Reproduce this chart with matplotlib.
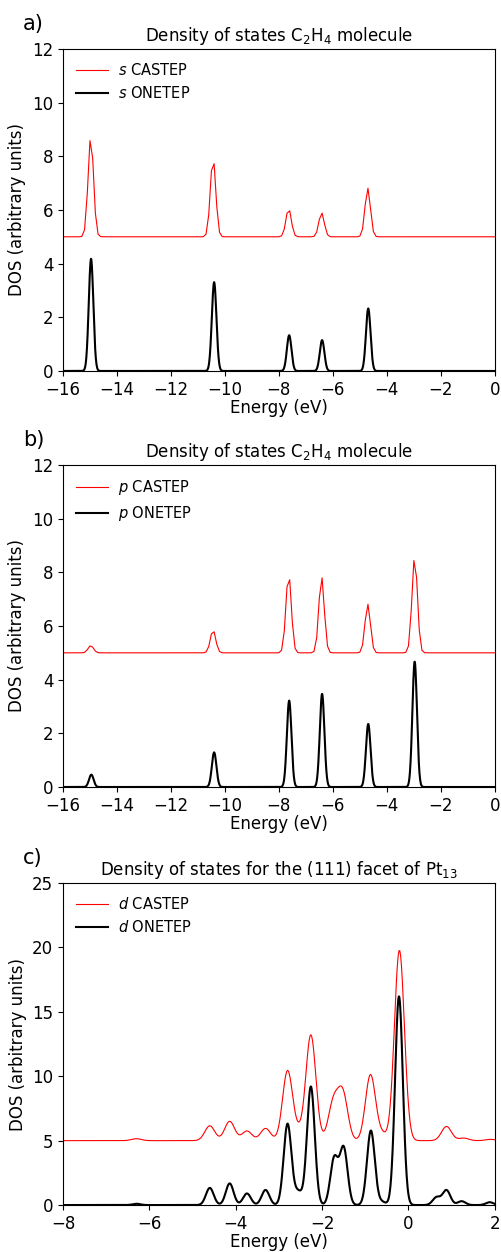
import numpy as np
import matplotlib
matplotlib.use('Agg')
import matplotlib.pyplot as plt

# peak centres (eV) and heights, Gaussian smeared
# a) s states of C2H4
s_castep_e = [-14.97, -10.44, -7.64, -6.42, -4.71]
s_castep_h = [3.75, 2.95, 1.05, 0.9, 1.82]
s_onetep_e = [-14.96, -10.40, -7.62, -6.40, -4.69]
s_onetep_h = [4.18, 3.31, 1.33, 1.15, 2.33]

# b) p states of C2H4
p_castep_e = [-14.97, -10.44, -7.64, -6.42, -4.71, -2.97]
p_castep_h = [0.27, 0.85, 2.95, 2.85, 1.82, 3.6]
p_onetep_e = [-14.95, -10.40, -7.62, -6.40, -4.69, -2.97]
p_onetep_h = [0.46, 1.29, 3.22, 3.47, 2.35, 4.67]

# c) d states of the Pt13 (111) facet
d_castep_e = [-6.30, -4.60, -4.14, -3.74, -3.31, -2.80, -2.55, -2.26, -1.74,
              -1.52, -0.88, -0.62, -0.21, 0.88, 1.28, 1.90]
d_castep_h = [0.15, 1.15, 1.5, 0.75, 0.95, 5.4, 0.6, 8.2, 2.9,
              3.6, 5.1, 0.5, 14.8, 1.1, 0.2, 0.1]
d_onetep_e = [-6.30, -4.60, -4.14, -3.74, -3.31, -2.80, -2.55, -2.26, -1.72,
              -1.50, -0.87, -0.62, -0.22, 0.65, 0.88, 1.23, 1.88]
d_onetep_h = [0.1, 1.33, 1.68, 0.9, 1.17, 6.3, 1.0, 9.2, 3.6,
              4.4, 5.78, 0.25, 16.2, 0.6, 1.15, 0.3, 0.22]

castep_shift = 5.0


def smear(x, centres, heights, sigma):
    y = np.zeros_like(x)
    for c, h in zip(centres, heights):
        y += h * np.exp(-(x - c) ** 2 / (2 * sigma ** 2))
    return y


plt.rcParams['font.size'] = 12
fig = plt.figure(figsize=(5.01, 12.52), dpi=100)

panels = [
    (0.7037, 'a)', 's', (-16, 0), 12, s_castep_e, s_castep_h, s_onetep_e, s_onetep_h,
     'Density of states C$_2$H$_4$ molecule', 0.1, 0.1, 0.085),
    (0.3714, 'b)', 'p', (-16, 0), 12, p_castep_e, p_castep_h, p_onetep_e, p_onetep_h,
     'Density of states C$_2$H$_4$ molecule', 0.1, 0.1, 0.085),
    (0.0375, 'c)', 'd', (-8, 2), 25, d_castep_e, d_castep_h, d_onetep_e, d_onetep_h,
     'Density of states for the (111) facet of Pt$_{13}$', 0.02, 0.115, 0.09),
]

for (y0, tag, orb, xlim, ymax, ce, ch, oe, oh, title, step, sc, so) in panels:
    ax = fig.add_axes([0.1257, y0, 0.862, 0.2572])
    xc = np.arange(xlim[0], xlim[1] + step / 2, step)
    xo = np.linspace(xlim[0], xlim[1], 2000)
    ax.plot(xc, smear(xc, ce, ch, sc) + castep_shift, color='red', lw=0.8,
            label='$%s$ CASTEP' % orb)
    ax.plot(xo, smear(xo, oe, oh, so), color='black', lw=1.5,
            label='$%s$ ONETEP' % orb)
    ax.set_xlim(*xlim)
    ax.set_ylim(0, ymax)
    ax.tick_params(labelsize=12)
    ax.set_xlabel('Energy (eV)', fontsize=12, labelpad=0)
    ax.set_ylabel('DOS (arbitrary units)', fontsize=12)
    ax.set_title(title, fontsize=12)
    ax.legend(loc='upper left', frameon=False, fontsize=10.5, handlelength=2.2,
              handletextpad=0.7)
    fig.text(0.046, y0 + 0.2572 + 0.020, tag, fontsize=15, va='center')

fig.savefig('out.png', dpi=100)
